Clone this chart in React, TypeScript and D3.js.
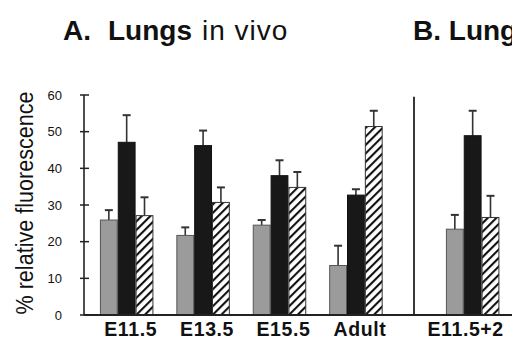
import React from "react";
import * as d3 from "d3";

const categoriesA = ["E11.5", "E13.5", "E15.5", "Adult"];
const categoriesB = ["E11.5+2"];
const seriesKeys = ["gray", "black", "hatched"];
const grayVals = [25.9, 21.7, 24.5, 13.5, 23.4];
const grayErr = [2.7, 2.2, 1.4, 5.4, 3.9];
const blackVals = [47.1, 46.2, 38.0, 32.7, 48.9];
const blackErr = [7.4, 4.1, 4.2, 1.6, 6.8];
const hatchVals = [27.1, 30.7, 34.8, 51.4, 26.6];
const hatchErr = [5.0, 4.1, 4.2, 4.3, 5.9];
const yTicks = [0, 10, 20, 30, 40, 50, 60];

const W = 512;
const H = 359;
const FONT = "'Liberation Sans', Arial, Helvetica, sans-serif";

export default function App() {
  const y = d3.scaleLinear().domain([0, 60]).range([315, 95]);
  const xA = d3.scaleBand<string>().domain(categoriesA).range([77, 405.6]).padding(0.3);
  const xB = d3.scaleBand<string>().domain(categoriesB).range([423, 522.3]).padding(0.3);
  const inner = d3.scaleBand<string>().domain(seriesKeys).range([0, xA.bandwidth()]);

  const allCats = [...categoriesA, ...categoriesB];
  const groupX = (c: string) => (categoriesA.includes(c) ? (xA(c) as number) : (xB(c) as number));

  const vals: Record<string, number[]> = { gray: grayVals, black: blackVals, hatched: hatchVals };
  const errs: Record<string, number[]> = { gray: grayErr, black: blackErr, hatched: hatchErr };
  const fills: Record<string, string> = { gray: "#9b9b9b", black: "#181818", hatched: "url(#hatch)" };
  const strokes: Record<string, string> = { gray: "#555", black: "#111", hatched: "#333" };

  const bars: React.ReactNode[] = [];
  const errBars: React.ReactNode[] = [];
  allCats.forEach((c, i) => {
    seriesKeys.forEach((k) => {
      const x0 = groupX(c) + (inner(k) as number);
      const w = inner.bandwidth();
      const v = vals[k][i];
      const e = errs[k][i];
      const cx = x0 + w / 2;
      errBars.push(
        <g key={`e-${c}-${k}`} stroke="#333" strokeWidth={1.6}>
          <line x1={cx} x2={cx} y1={y(v)} y2={y(v + e)} />
          <line x1={cx - 4} x2={cx + 4} y1={y(v + e)} y2={y(v + e)} strokeWidth={2} />
        </g>
      );
      bars.push(
        <rect
          key={`b-${c}-${k}`}
          x={x0 + 0.5}
          y={y(v)}
          width={w - 1}
          height={y(0) - y(v)}
          fill={fills[k]}
          stroke={strokes[k]}
          strokeWidth={1}
        />
      );
    });
  });

  return (
    <svg width={W} height={H} style={{ position: "absolute", left: 0, top: 0, background: "#fff" }}>
      <defs>
        <pattern id="hatch" patternUnits="userSpaceOnUse" width={6} height={6} patternTransform="rotate(45)">
          <rect width={6} height={6} fill="#fff" />
          <line x1={0} y1={0} x2={0} y2={6} stroke="#111" strokeWidth={4.2} />
        </pattern>
      </defs>
      <rect width={W} height={H} fill="#fff" />

      <text x={63} y={40} fontFamily={FONT} fontSize={28} fill="#111">
        <tspan fontWeight="bold">A.</tspan>
        <tspan fontWeight="bold" dx={17}>Lungs</tspan>
        <tspan dx={10} letterSpacing={1}>in vivo</tspan>
      </text>
      <text x={413} y={40} fontFamily={FONT} fontSize={28} fill="#111" fontWeight="bold">
        B. Lung
      </text>

      <text
        transform="translate(33,203) rotate(-90)"
        textAnchor="middle"
        fontFamily={FONT}
        fontSize={23}
        textLength={223}
        lengthAdjust="spacingAndGlyphs"
        fill="#111"
      >
        % relative fluorescence
      </text>

      {yTicks.map((t) => (
        <g key={`t-${t}`}>
          <line x1={80} x2={89} y1={y(t)} y2={y(t)} stroke="#222" strokeWidth={1.5} />
          <text x={62} y={y(t)} dy="0.35em" textAnchor="end" fontFamily={FONT} fontSize={13} fill="#111">
            {t}
          </text>
        </g>
      ))}
      <line x1={84} x2={84} y1={y(60)} y2={y(0)} stroke="#222" strokeWidth={1.6} />
      <line x1={414} x2={414} y1={y(59.5)} y2={y(0)} stroke="#222" strokeWidth={1.8} />

      {errBars}
      {bars}
      <line x1={84} x2={W} y1={y(0)} y2={y(0)} stroke="#222" strokeWidth={2} />

      {categoriesA.map((c) => (
        <text
          key={`l-${c}`}
          x={(xA(c) as number) + xA.bandwidth() / 2 + 4}
          y={336}
          textAnchor="middle"
          fontFamily={FONT}
          fontSize={19.5}
          fontWeight="bold"
          letterSpacing={0.6}
          fill="#111"
        >
          {c}
        </text>
      ))}
      {categoriesB.map((c) => (
        <text
          key={`l-${c}`}
          x={(xB(c) as number) + xB.bandwidth() / 2 - 7}
          y={336}
          textAnchor="middle"
          fontFamily={FONT}
          fontSize={19.5}
          fontWeight="bold"
          letterSpacing={0.6}
          fill="#111"
        >
          {c}
        </text>
      ))}
    </svg>
  );
}
